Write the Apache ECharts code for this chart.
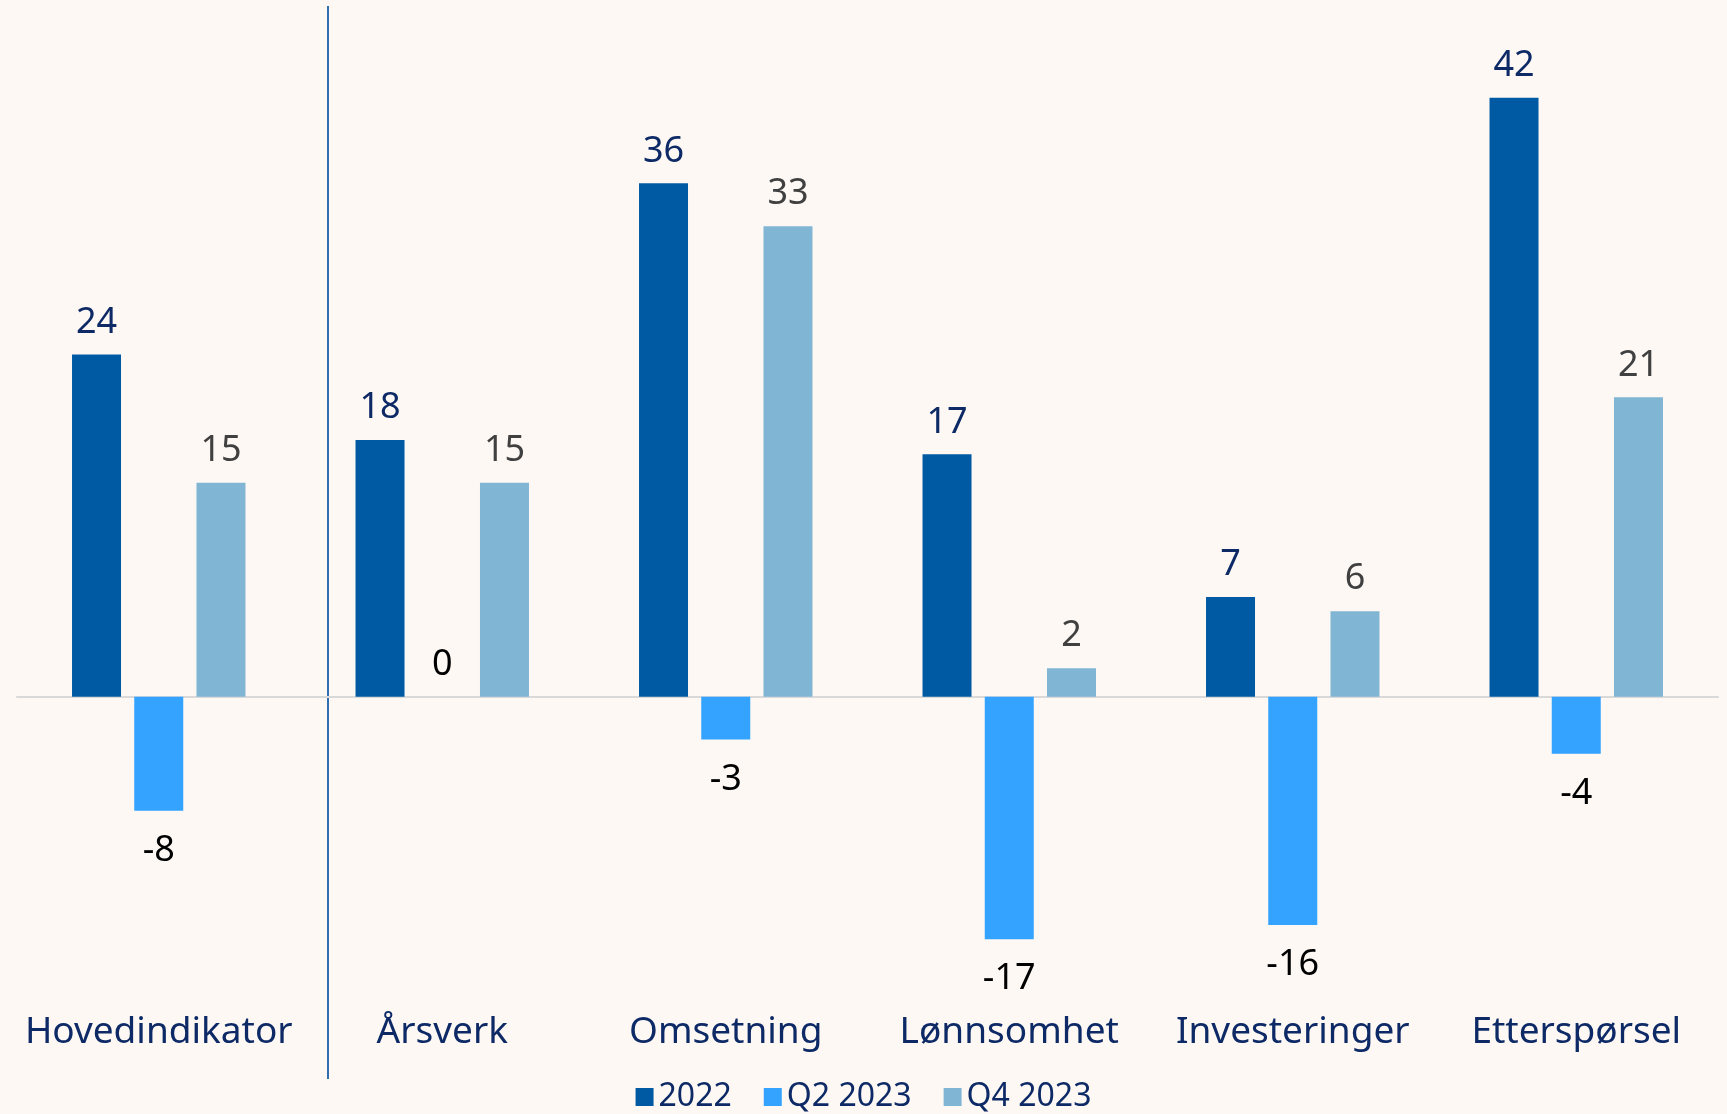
<!DOCTYPE html>
<html>
<head>
<meta charset="utf-8">
<script src="https://cdn.jsdelivr.net/npm/echarts@6/dist/echarts.min.js"></script>
<style>
  html, body { margin: 0; padding: 0; background: #fdf8f4; }
  #chart { width: 1727px; height: 1114px; }
</style>
</head>
<body>
<div id="chart"></div>
<script>
  // kategorier og verdier
  const categories = ['Hovedindikator', 'Årsverk', 'Omsetning', 'Lønnsomhet', 'Investeringer', 'Etterspørsel'];
  const seriesNames = ['2022', 'Q2 2023', 'Q4 2023'];
  const values2022 = [24, 18, 36, 17, 7, 42];
  const valuesQ2 = [-8, 0, -3, -17, -16, -4];
  const valuesQ4 = [15, 15, 33, 2, 6, 21];

  const colors = ['#005aa3', '#33a3ff', '#80b5d4'];
  const labelColors = ['#0d2a66', '#000000', '#404040'];
  const font = 'Noto Sans';

  const myChart = echarts.init(document.getElementById('chart'));

  // negative verdier får etikett under stolpen
  function toData(arr) {
    return arr.map(function (v) {
      return {
        value: v,
        label: {
          position: v < 0 ? 'bottom' : 'top',
          distance: v < 0 ? 22 : 14
        }
      };
    });
  }

  function makeSeries(name, arr, idx) {
    return {
      name: name,
      type: 'bar',
      data: toData(arr),
      barWidth: 49,
      barGap: '27%',
      itemStyle: { color: colors[idx] },
      label: {
        show: true,
        color: labelColors[idx],
        fontFamily: font,
        fontSize: 36
      }
    };
  }

  const option = {
    backgroundColor: '#fdf8f4',
    animation: false,
    color: colors,
    grid: {
      left: 17,
      right: 9,
      top: 55,
      bottom: 132
    },
    legend: {
      bottom: -4,
      left: 'center',
      itemWidth: 18,
      itemHeight: 18,
      itemGap: 32,
      icon: 'rect',
      textStyle: {
        color: '#0d2a66',
        fontFamily: font,
        fontSize: 32
      },
      data: seriesNames
    },
    xAxis: {
      type: 'category',
      data: categories,
      axisTick: { show: false },
      axisLine: {
        onZero: true,
        lineStyle: { color: '#d9d9d9', width: 2 }
      },
      axisLabel: {
        margin: 32,
        color: '#0d2a66',
        fontFamily: font,
        fontSize: 37,
        interval: 0
      }
    },
    yAxis: {
      type: 'value',
      min: -20,
      max: 45,
      interval: 5,
      show: false,
      splitLine: { show: false }
    },
    graphic: [{
      type: 'line',
      shape: { x1: 328, y1: 6, x2: 328, y2: 1079 },
      style: { stroke: '#2f6fb0', lineWidth: 2 }
    }],
    series: [
      makeSeries(seriesNames[0], values2022, 0),
      makeSeries(seriesNames[1], valuesQ2, 1),
      makeSeries(seriesNames[2], valuesQ4, 2)
    ]
  };
  myChart.setOption(option);
</script>
</body>
</html>
